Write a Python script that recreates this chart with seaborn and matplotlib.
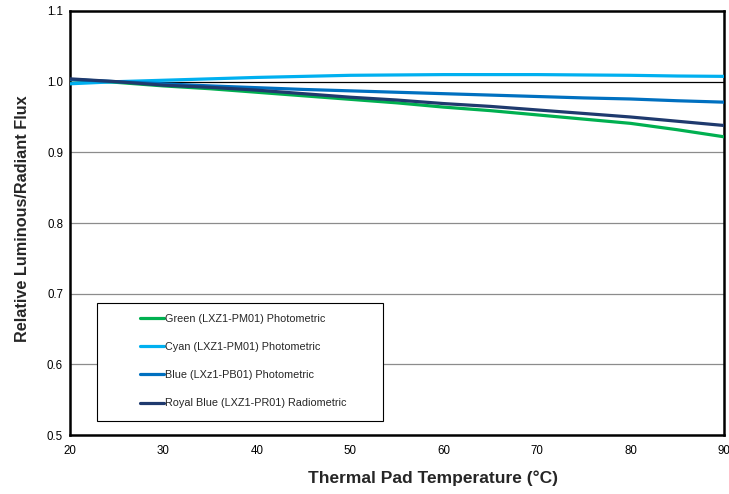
import matplotlib
matplotlib.use("Agg")
import matplotlib.pyplot as plt
import seaborn as sns
import pandas as pd
from matplotlib.patches import Rectangle

temps = [20, 25, 30, 35, 40, 45, 50, 55, 60, 65, 70, 75, 80, 85, 90]
green = [1.003, 0.999, 0.994, 0.990, 0.985, 0.980, 0.975, 0.970, 0.964, 0.959, 0.953, 0.947, 0.941, 0.932, 0.922]
cyan = [0.997, 1.000, 1.002, 1.004, 1.006, 1.0075, 1.009, 1.0095, 1.010, 1.010, 1.010, 1.0095, 1.009, 1.008, 1.0075]
blue = [1.003, 1.000, 0.997, 0.994, 0.9915, 0.989, 0.987, 0.985, 0.983, 0.981, 0.979, 0.977, 0.9755, 0.973, 0.971]
royal = [1.004, 1.000, 0.995, 0.992, 0.988, 0.983, 0.978, 0.974, 0.969, 0.965, 0.960, 0.955, 0.950, 0.944, 0.938]

names = ["Green (LXZ1-PM01) Photometric", "Cyan (LXZ1-PM01) Photometric",
         "Blue (LXz1-PB01) Photometric", "Royal Blue (LXZ1-PR01) Radiometric"]
colors = ["#00B050", "#00B0F0", "#0070C0", "#1F3A6E"]
x_ticks = [20, 30, 40, 50, 60, 70, 80, 90]
y_ticks = [0.5, 0.6, 0.7, 0.8, 0.9, 1.0, 1.1]

rows = []
for name, vals in zip(names, [green, cyan, blue, royal]):
    for t, v in zip(temps, vals):
        rows.append({"Temp": t, "Flux": v, "Series": name})
df = pd.DataFrame(rows)

sns.set_theme(style="white")
plt.rcParams['font.family'] = ['Liberation Sans', 'DejaVu Sans']

fig = plt.figure(figsize=(7.29, 4.94), dpi=100)
ax = fig.add_axes([70/729, 1-435/494, 654/729, 424/494])

for yv in y_ticks[1:-1]:
    ax.axhline(yv, color="#000000" if abs(yv-1.0) < 1e-9 else "#8c8c8c", lw=0.9, zorder=1)

sns.lineplot(data=df, x="Temp", y="Flux", hue="Series", hue_order=names,
             palette=colors, linewidth=2.3, ax=ax, zorder=3, legend=True)

ax.set_xlim(20, 90)
ax.set_ylim(0.5, 1.1)
ax.set_xticks(x_ticks)
ax.set_xticklabels([str(v) for v in x_ticks], fontsize=8.3)
ax.set_yticks(y_ticks)
ax.set_yticklabels([f"{v:.1f}" for v in y_ticks], fontsize=8.3)
ax.tick_params(axis="both", direction="out", length=3, width=1, color="black", pad=2, colors="black")
ax.tick_params(axis="x", pad=4)
for s in ax.spines.values():
    s.set_color("black")
    s.set_linewidth(1.8)

ax.set_xlabel("Thermal Pad Temperature (°C)", fontsize=12.5, fontweight="bold")
ax.xaxis.set_label_coords(0.555, -0.083, transform=ax.transAxes)
ax.xaxis.label.set_va("top")
ax.set_ylabel("Relative Luminous/Radiant Flux", fontsize=11.7, fontweight="bold")
ax.yaxis.set_label_coords(-0.061, 0.509, transform=ax.transAxes)

# legend box
rect = Rectangle((0.041, 0.033), 0.438, 0.278, transform=ax.transAxes,
                 facecolor="white", edgecolor="black", lw=0.8, zorder=4)
ax.add_patch(rect)
handles, labels = ax.get_legend_handles_labels()
leg = ax.legend(handles, labels, loc="center left", bbox_to_anchor=(0.099, 0.1745),
                frameon=False, fontsize=7.8, handlelength=2.2, handletextpad=0.1,
                labelspacing=1.68, borderpad=0)
leg.set_zorder(5)

fig.savefig("out.png", dpi=100)
